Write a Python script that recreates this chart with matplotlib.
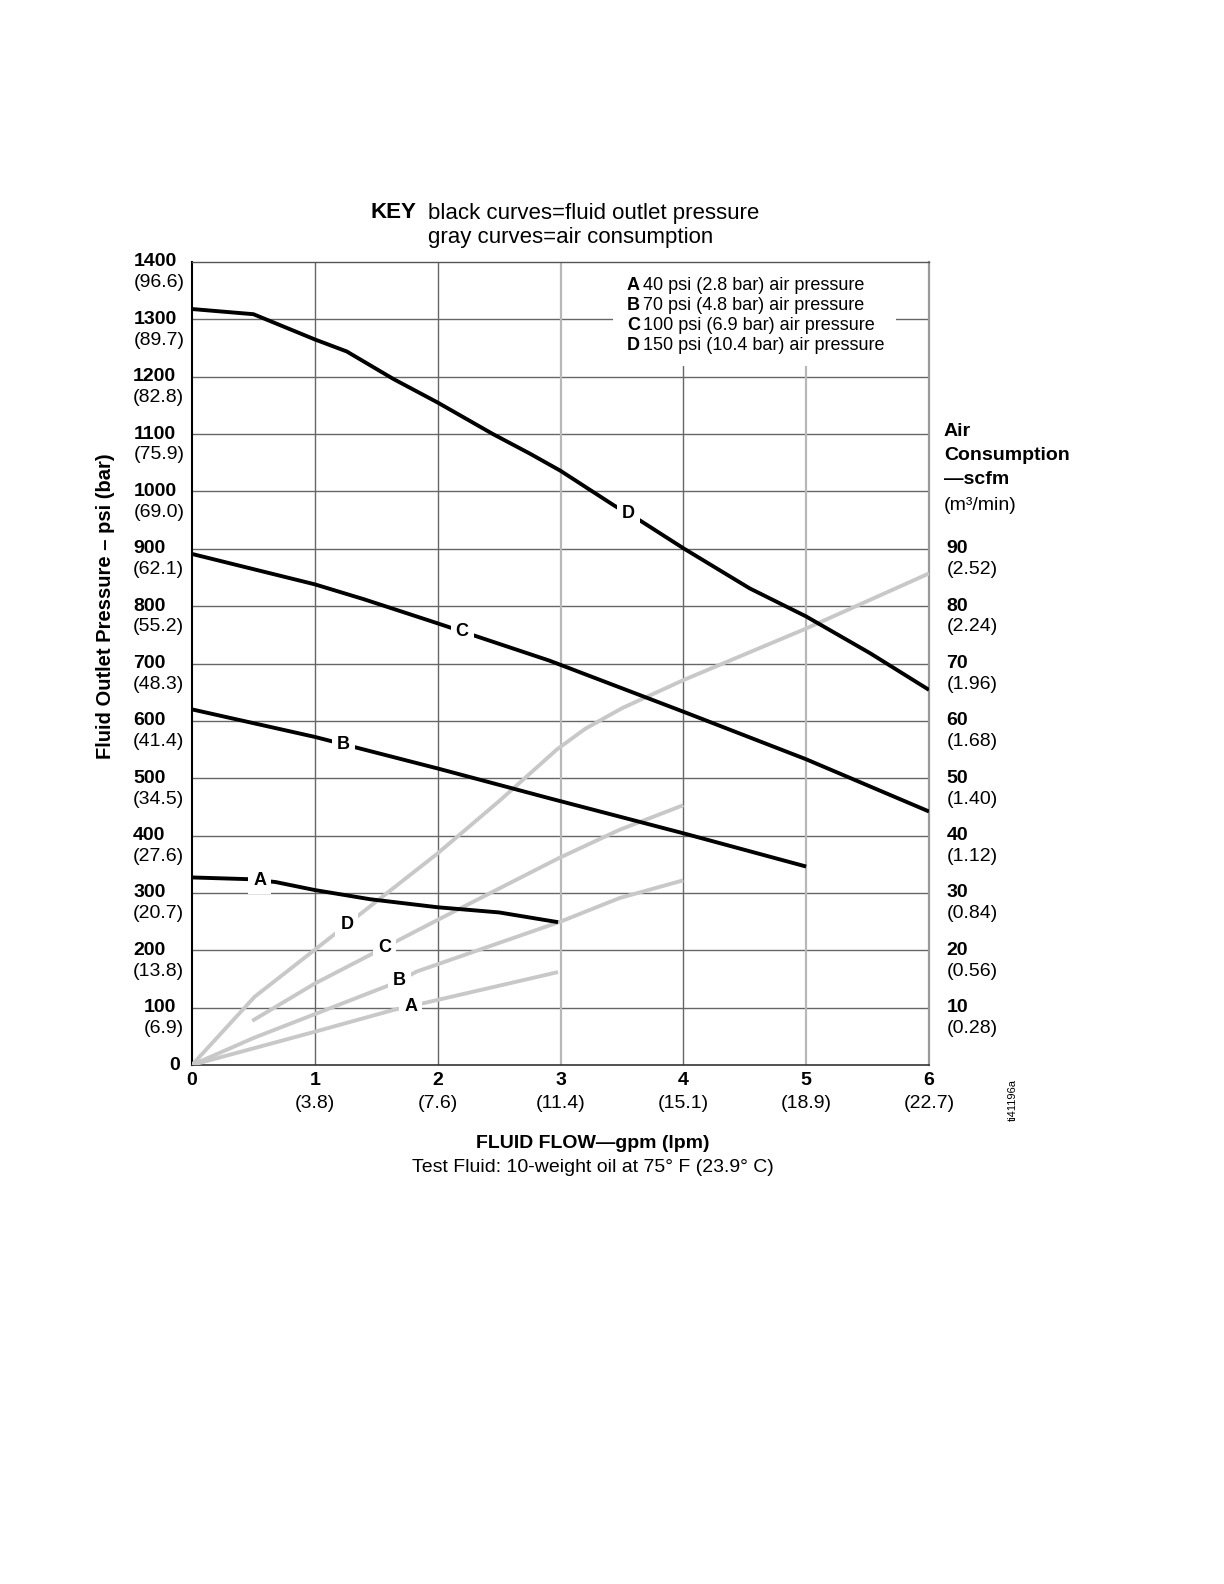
import numpy as np
import matplotlib
matplotlib.use("Agg")
import matplotlib.pyplot as plt
from matplotlib.patches import Rectangle

# ============================================================
# Curvas de rendimiento de la bomba: presión de salida y consumo de aire
# ============================================================

plt.rcParams["font.family"] = ["Liberation Sans", "DejaVu Sans"]

W, H, DPI = 1224, 1584, 100

# curvas negras: presión de salida del fluido (psi) vs caudal (gpm)
flow_a = [0.0, 0.46, 0.68, 1.0, 1.45, 2.0, 2.5, 2.98]
psi_a = [327, 324, 319, 305, 289, 275, 266, 249]

flow_b = [0.0, 1.0, 2.0, 2.91, 4.0, 5.0]
psi_b = [620, 572, 517, 465, 404, 346]

flow_c = [0.0, 1.0, 1.4, 2.0, 2.91, 4.0, 5.0, 6.0]
psi_c = [891, 838, 812, 770, 705, 616, 533, 442]

flow_d = [0.0, 0.5, 1.0, 1.26, 1.64, 2.0, 2.45, 2.75, 3.0, 3.44, 3.65, 4.0, 4.54, 5.0, 5.52, 6.0]
psi_d = [1318, 1309, 1265, 1244, 1196, 1155, 1100, 1066, 1036, 975, 949, 901, 831, 782, 718, 654]

# curvas grises: consumo de aire (scfm) vs caudal (gpm)
air_flow_a = [0.0, 1.0, 1.64, 1.91, 2.98]
scfm_a = [0.0, 5.8, 9.6, 10.9, 16.2]

air_flow_b = [0.0, 0.5, 1.64, 1.83, 3.0, 3.48, 4.0]
scfm_b = [0.0, 4.7, 14.2, 16.3, 25.0, 29.1, 32.2]

air_flow_c = [0.49, 1.0, 2.0, 2.98, 3.48, 4.0]
scfm_c = [7.7, 14.2, 25.3, 36.0, 41.0, 45.3]

air_flow_d = [0.0, 0.51, 1.0, 2.0, 2.5, 2.97, 3.2, 3.5, 4.0, 5.0, 6.0]
scfm_d = [0.0, 11.9, 20.1, 36.9, 46.0, 55.0, 58.6, 62.2, 67.1, 76.1, 85.7]

# posición (gpm) de la letra sobre cada curva
label_flow_black = {"A": 0.55, "B": 1.23, "C": 2.20, "D": 3.55}
label_flow_gray = {"A": 1.78, "B": 1.69, "C": 1.57, "D": 1.26}

# ejes
flow_ticks = [0, 1, 2, 3, 4, 5, 6]
lpm_labels = ["", "(3.8)", "(7.6)", "(11.4)", "(15.1)", "(18.9)", "(22.7)"]
psi_ticks = list(range(0, 1401, 100))
bar_labels = ["", "(6.9)", "(13.8)", "(20.7)", "(27.6)", "(34.5)", "(41.4)", "(48.3)",
              "(55.2)", "(62.1)", "(69.0)", "(75.9)", "(82.8)", "(89.7)", "(96.6)"]
scfm_ticks = [10, 20, 30, 40, 50, 60, 70, 80, 90]
m3_labels = ["(0.28)", "(0.56)", "(0.84)", "(1.12)", "(1.40)", "(1.68)", "(1.96)", "(2.24)", "(2.52)"]
SCFM_TO_AXIS = 10  # 10 psi de la escala izquierda = 1 scfm

key_lines = [("A", "40 psi (2.8 bar) air pressure"),
             ("B", "70 psi (4.8 bar) air pressure"),
             ("C", "100 psi (6.9 bar) air pressure"),
             ("D", "150 psi (10.4 bar) air pressure")]

BLACK = "#000000"
GRAY = "#c8c8c8"
GRID = "#666666"


def fig_xy(x, y):
    return x / W, 1 - y / H


fig = plt.figure(figsize=(W / DPI, H / DPI), dpi=DPI)
fig.patch.set_facecolor("white")
ax = fig.add_axes([192 / W, 1 - 1065 / H, (929 - 192) / W, (1065 - 262) / H])
ax.set_xlim(0, 6)
ax.set_ylim(0, 1400)
ax.set_xticks([])
ax.set_yticks([])

# rejilla
for v in psi_ticks[1:-1]:
    ax.axhline(v, color=GRID, lw=1.0, zorder=1)
for v in flow_ticks[1:-1]:
    light = v in (3, 5)
    ax.axvline(v, color="#b8b8b8" if light else GRID, lw=1.6 if light else 1.0, zorder=1)

ax.spines["left"].set_color("black")
ax.spines["left"].set_linewidth(1.5)
ax.spines["bottom"].set_color("#333333")
ax.spines["bottom"].set_linewidth(1.2)
ax.spines["top"].set_color("#555555")
ax.spines["top"].set_linewidth(1.0)
ax.spines["right"].set_color("#999999")
ax.spines["right"].set_linewidth(1.6)

# caja blanca de la leyenda
ax.add_patch(Rectangle((3.43, 1219), 5.73 - 3.43, 1400 - 1219, facecolor="white",
                       edgecolor="none", zorder=2))

# curvas grises
gray_curves = {
    "A": (air_flow_a, scfm_a),
    "B": (air_flow_b, scfm_b),
    "C": (air_flow_c, scfm_c),
    "D": (air_flow_d, scfm_d),
}
for name, (fx, fy) in gray_curves.items():
    yy = np.array(fy) * SCFM_TO_AXIS
    ax.plot(fx, yy, color=GRAY, lw=2.8, solid_capstyle="butt", solid_joinstyle="round",
            zorder=3)
    lx = label_flow_gray[name]
    ly = np.interp(lx, fx, yy)
    ax.text(lx, ly, name, ha="center", va="center", fontsize=13, fontweight="bold",
            zorder=6, bbox=dict(boxstyle="square,pad=0.28", fc="white", ec="none"))

# curvas negras
black_curves = {
    "A": (flow_a, psi_a),
    "B": (flow_b, psi_b),
    "C": (flow_c, psi_c),
    "D": (flow_d, psi_d),
}
for name, (fx, fy) in black_curves.items():
    ax.plot(fx, fy, color=BLACK, lw=2.8, solid_capstyle="butt", solid_joinstyle="round",
            zorder=4)
    lx = label_flow_black[name]
    ly = np.interp(lx, fx, fy)
    ax.text(lx, ly, name, ha="center", va="center", fontsize=13, fontweight="bold",
            zorder=6, bbox=dict(boxstyle="square,pad=0.28", fc="white", ec="none"))

# etiquetas del eje izquierdo (psi y bar)
ytrans = ax.get_yaxis_transform()
fig.canvas.draw()
renderer = fig.canvas.get_renderer()
for v, bl in zip(psi_ticks, bar_labels):
    if bl == "":
        ax.annotate(str(v), xy=(0, v), xycoords=ytrans, xytext=(-8.5, 0),
                    textcoords="offset points", ha="right", va="center",
                    fontsize=14, fontweight="bold", annotation_clip=False)
        continue
    t = ax.annotate(bl, xy=(0, v), xycoords=ytrans, xytext=(-5.5, -15),
                    textcoords="offset points", ha="right", va="center",
                    fontsize=14, annotation_clip=False)
    left_px = t.get_window_extent(renderer).x0
    off = (left_px - ax.bbox.x0) * 72 / DPI
    ax.annotate(str(v), xy=(0, v), xycoords=ytrans, xytext=(off, 0),
                textcoords="offset points", ha="left", va="center",
                fontsize=14, fontweight="bold", annotation_clip=False)

# etiquetas del eje derecho (scfm y m3/min)
for v, ml in zip(scfm_ticks, m3_labels):
    y = v * SCFM_TO_AXIS
    ax.annotate(str(v), xy=(1, y), xycoords=ytrans, xytext=(12.5, 0),
                textcoords="offset points", ha="left", va="center",
                fontsize=14, fontweight="bold", annotation_clip=False)
    ax.annotate(ml, xy=(1, y), xycoords=ytrans, xytext=(12.5, -15),
                textcoords="offset points", ha="left", va="center",
                fontsize=14, annotation_clip=False)

# etiquetas del eje x (gpm y lpm)
xtrans = ax.get_xaxis_transform()
for v, ll in zip(flow_ticks, lpm_labels):
    ax.annotate(str(v), xy=(v, 0), xycoords=xtrans, xytext=(0, -11.5),
                textcoords="offset points", ha="center", va="center",
                fontsize=14, fontweight="bold", annotation_clip=False)
    if ll:
        ax.annotate(ll, xy=(v, 0), xycoords=xtrans, xytext=(0, -28),
                    textcoords="offset points", ha="center", va="center",
                    fontsize=14, annotation_clip=False)

# títulos de ejes
fig.text(*fig_xy(593, 1144), "FLUID FLOW\u2014gpm (lpm)", ha="center", va="center",
         fontsize=14, fontweight="bold")
fig.text(*fig_xy(593, 1167), "Test Fluid: 10-weight oil at 75\u00b0 F (23.9\u00b0 C)",
         ha="center", va="center", fontsize=14)
fig.text(*fig_xy(106, 606), "Fluid Outlet Pressure \u2013 psi (bar)", ha="center",
         va="center", rotation=90, fontsize=14.5, fontweight="bold")

x_air = 944
fig.text(*fig_xy(x_air, 432), "Air", ha="left", va="center", fontsize=14, fontweight="bold")
fig.text(*fig_xy(x_air, 456), "Consumption", ha="left", va="center", fontsize=14,
         fontweight="bold")
fig.text(*fig_xy(x_air, 480), "\u2014scfm", ha="left", va="center", fontsize=14,
         fontweight="bold")
fig.text(*fig_xy(x_air, 506), "(m\u00b3/min)", ha="left", va="center", fontsize=14)

# KEY
fig.text(*fig_xy(370, 213), "KEY", ha="left", va="center", fontsize=16, fontweight="bold")
fig.text(*fig_xy(428, 213), "black curves=fluid outlet pressure", ha="left", va="center",
         fontsize=16)
fig.text(*fig_xy(428, 238), "gray curves=air consumption", ha="left", va="center",
         fontsize=16)

# leyenda de presiones de aire
for i, (letter, desc) in enumerate(key_lines):
    y = 285 + i * 20.2
    t = fig.text(*fig_xy(627, y), letter, ha="left", va="center", fontsize=13,
                 fontweight="bold")
    w = t.get_window_extent(renderer).width
    fig.text(*fig_xy(627 + w + 3, y), desc, ha="left", va="center", fontsize=13)

fig.text(*fig_xy(1013, 1100), "ti41196a", ha="center", va="center", rotation=90,
         fontsize=8)

fig.savefig("out.png", dpi=DPI, facecolor="white")
plt.close(fig)
